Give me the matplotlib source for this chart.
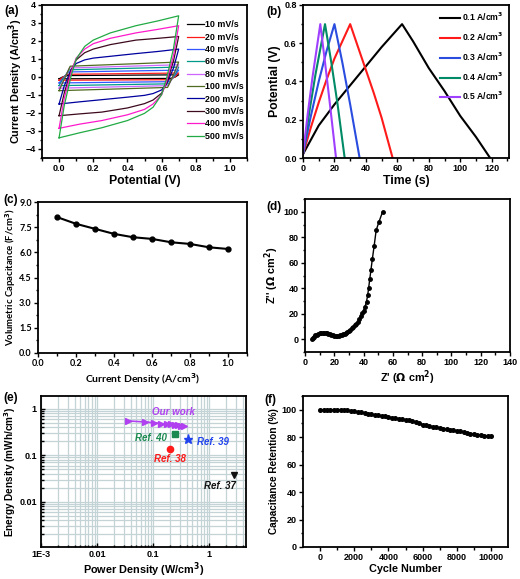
import matplotlib
matplotlib.use("Agg")
import matplotlib.pyplot as plt
import numpy as np
from matplotlib.ticker import MultipleLocator, LogLocator, NullFormatter, FixedLocator, FixedFormatter

plt.rcParams['font.family'] = ['Liberation Sans', 'DejaVu Sans']
plt.rcParams['font.weight'] = 'bold'
plt.rcParams['axes.labelweight'] = 'bold'
plt.rcParams['mathtext.default'] = 'bf'

# ---------------- (a) CV data ----------------
cv_labels = ["10 mV/s", "20 mV/s", "40 mV/s", "60 mV/s", "80 mV/s",
             "100 mV/s", "200 mV/s", "300 mV/s", "400 mV/s", "500 mV/s"]
cv_colors = ["#000000", "#ff1a1a", "#3355ff", "#00998a", "#cc66ff",
             "#4f6b1f", "#00009e", "#3d0a1e", "#ff1acc", "#22aa44"]
# forward (upper) branch potentials / currents
cv_up_E = [
    [0.0, 0.02, 0.05, 0.70],
    [0.0, 0.02, 0.05, 0.70],
    [0.0, 0.025, 0.055, 0.70],
    [0.0, 0.025, 0.06, 0.70],
    [0.0, 0.03, 0.06, 0.70],
    [0.0, 0.03, 0.065, 0.70],
    [0.0, 0.03, 0.07, 0.10, 0.15, 0.20, 0.30, 0.45, 0.58, 0.70],
    [0.0, 0.03, 0.07, 0.10, 0.15, 0.20, 0.30, 0.45, 0.58, 0.70],
    [0.0, 0.03, 0.07, 0.10, 0.15, 0.20, 0.30, 0.45, 0.58, 0.70],
    [0.0, 0.03, 0.07, 0.10, 0.15, 0.20, 0.30, 0.45, 0.58, 0.70],
]
cv_up_I = [
    [-0.10, 0.00, 0.08, 0.12],
    [-0.18, -0.02, 0.15, 0.22],
    [-0.33, -0.05, 0.28, 0.38],
    [-0.48, -0.08, 0.40, 0.55],
    [-0.62, -0.10, 0.50, 0.68],
    [-0.76, -0.12, 0.60, 0.83],
    [-1.50, -0.50, 0.40, 0.75, 0.95, 1.05, 1.15, 1.30, 1.42, 1.55],
    [-2.15, -0.90, 0.35, 0.95, 1.35, 1.55, 1.80, 2.05, 2.15, 2.25],
    [-2.85, -1.20, 0.25, 1.05, 1.55, 1.85, 2.15, 2.45, 2.65, 2.85],
    [-3.38, -1.60, 0.05, 1.00, 1.70, 2.05, 2.45, 2.85, 3.12, 3.40],
]
# reverse (lower) branch
cv_dn_E = [
    [0.70, 0.68, 0.65, 0.0],
    [0.70, 0.68, 0.65, 0.0],
    [0.70, 0.675, 0.645, 0.0],
    [0.70, 0.675, 0.64, 0.0],
    [0.70, 0.67, 0.64, 0.0],
    [0.70, 0.67, 0.635, 0.0],
    [0.70, 0.67, 0.63, 0.60, 0.55, 0.50, 0.40, 0.25, 0.12, 0.0],
    [0.70, 0.67, 0.63, 0.60, 0.55, 0.50, 0.40, 0.25, 0.12, 0.0],
    [0.70, 0.67, 0.63, 0.60, 0.55, 0.50, 0.40, 0.25, 0.12, 0.0],
    [0.70, 0.67, 0.63, 0.60, 0.55, 0.50, 0.40, 0.25, 0.12, 0.0],
]
cv_dn_I = [
    [0.12, 0.00, -0.08, -0.10],
    [0.22, 0.02, -0.15, -0.18],
    [0.38, 0.05, -0.26, -0.33],
    [0.55, 0.08, -0.38, -0.48],
    [0.68, 0.10, -0.48, -0.62],
    [0.83, 0.12, -0.58, -0.76],
    [1.55, 0.50, -0.38, -0.72, -0.92, -1.02, -1.12, -1.26, -1.38, -1.50],
    [2.25, 0.90, -0.32, -0.90, -1.28, -1.48, -1.72, -1.95, -2.05, -2.15],
    [2.85, 1.20, -0.22, -1.00, -1.50, -1.80, -2.10, -2.42, -2.62, -2.85],
    [3.40, 1.60, -0.05, -0.98, -1.68, -2.02, -2.42, -2.82, -3.10, -3.38],
]

# ---------------- (b) GCD data ----------------
gcd_labels = ["0.1 A/cm$^{3}$", "0.2 A/cm$^{3}$", "0.3 A/cm$^{3}$",
              "0.4 A/cm$^{3}$", "0.5 A/cm$^{3}$"]
gcd_colors = ["#000000", "#ff1a1a", "#2a4de0", "#008a66", "#a040ff"]
gcd_t = [
    [0, 10, 20, 30, 40, 50, 63, 70, 80, 90, 100, 110, 119],
    [0, 5, 10, 15, 20, 25, 30, 35, 40, 45, 50, 57],
    [0, 5, 10, 15, 20, 25, 30, 36],
    [0, 4, 8, 14, 18, 22, 26.5],
    [0, 3, 6, 11, 14, 17, 21],
]
gcd_V = [
    [0.02, 0.17, 0.28, 0.38, 0.48, 0.58, 0.70, 0.61, 0.47, 0.35, 0.22, 0.11, 0.0],
    [0.02, 0.16, 0.29, 0.41, 0.52, 0.61, 0.70, 0.58, 0.46, 0.34, 0.21, 0.0],
    [0.02, 0.22, 0.40, 0.56, 0.70, 0.50, 0.28, 0.0],
    [0.02, 0.24, 0.44, 0.70, 0.50, 0.28, 0.0],
    [0.02, 0.23, 0.42, 0.70, 0.50, 0.29, 0.0],
]

# ---------------- (c) rate capability ----------------
cd_current = [0.1, 0.2, 0.3, 0.4, 0.5, 0.6, 0.7, 0.8, 0.9, 1.0]
cd_capacitance = [8.1, 7.7, 7.4, 7.1, 6.9, 6.8, 6.6, 6.5, 6.3, 6.2]

# ---------------- (d) Nyquist ----------------
z_re = [5, 5.5, 6, 7, 8, 9, 10, 11, 12, 13, 14, 15, 16, 17, 18, 19, 20, 21, 22,
        23, 24, 25, 26, 27, 28, 29, 30, 31, 32, 33, 34, 35, 36, 37, 38, 39,
        40, 41, 42, 42.8, 43.5, 44.2, 45.0, 46.0, 47.2, 48.6, 50.5, 53]
z_im = [0.5, 1.3, 2.0, 3.0, 3.7, 4.2, 4.6, 4.9, 5.0, 5.0, 4.9, 4.7, 4.4, 4.0, 3.6,
        3.2, 2.9, 2.7, 2.7, 2.9, 3.2, 3.6, 4.0, 4.5, 5.1, 5.8, 6.6, 7.5, 8.5, 9.6,
        10.8, 12.2, 13.8, 15.5, 18.0, 20.5, 22.5, 25.5, 29.5, 34.5, 40.5, 47, 54,
        63, 73, 85.5, 92, 100]

# ---------------- (e) Ragone ----------------
our_power = [0.035, 0.07, 0.105, 0.14, 0.175, 0.21, 0.245, 0.28, 0.315, 0.35]
our_energy = [0.551, 0.524, 0.503, 0.483, 0.469, 0.463, 0.449, 0.442, 0.428, 0.422]
ref_names = ["Ref. 40", "Ref. 39", "Ref. 38", "Ref. 37"]
ref_power = [0.24, 0.42, 0.20, 2.7]
ref_energy = [0.29, 0.22, 0.14, 0.038]

# ---------------- (f) cycling ----------------
cycles = [0, 200, 400, 600, 800, 1000, 1200, 1400, 1600, 1800, 2000, 2200, 2400,
          2600, 2800, 3000, 3200, 3400, 3600, 3800, 4000, 4200, 4400, 4600, 4800,
          5000, 5200, 5400, 5600, 5800, 6000, 6200, 6400, 6600, 6800, 7000, 7200,
          7400, 7600, 7800, 8000, 8200, 8400, 8600, 8800, 9000, 9200, 9400, 9600,
          9800, 10000]
retention = [100, 100, 100, 100, 100, 100, 100, 99.8, 99.5, 99.2, 98.9, 98.5,
             98.1, 97.7, 97.2, 96.7, 96.3, 95.9, 95.5, 95.1, 94.7, 94.3, 93.9,
             93.5, 93.1, 92.7, 92.2, 91.7, 91.1, 90.3, 89.2, 88.6, 88.1, 87.6,
             87.1, 86.7, 86.2, 85.7, 85.3, 84.9, 84.6, 84.2, 83.7, 83.2, 82.6,
             82.1, 81.7, 81.4, 81.2, 81.0, 80.9]

W, H = 520, 579
fig = plt.figure(figsize=(W / 100, H / 100), dpi=100)


def box(l, r, t, b):
    return [l / W, 1 - b / H, (r - l) / W, (b - t) / H]


TICK = 6.5
LAB = 7.8


def style(ax, direction='out'):
    for s in ax.spines.values():
        s.set_linewidth(1.3)
    ax.tick_params(which='both', direction=direction, labelsize=TICK, width=1.0,
                   top=False, right=False, pad=1.5)
    ax.tick_params(which='major', length=3)
    ax.tick_params(which='minor', length=1.8)
    for lab in ax.get_xticklabels() + ax.get_yticklabels():
        lab.set_fontweight('bold')


# (a)
axa = fig.add_axes(box(42, 247, 5, 158))
for i in range(len(cv_labels)):
    E = cv_up_E[i] + cv_dn_E[i]
    I = cv_up_I[i] + cv_dn_I[i]
    axa.plot(E, I, color=cv_colors[i], lw=0.9, label=cv_labels[i])
axa.set_xlim(-0.1, 1.1)
axa.set_ylim(-4.5, 4)
axa.xaxis.set_major_locator(MultipleLocator(0.2))
axa.xaxis.set_minor_locator(MultipleLocator(0.1))
axa.yaxis.set_major_locator(MultipleLocator(1))
axa.yaxis.set_minor_locator(MultipleLocator(0.5))
axa.set_xlabel("Potential (V)", fontsize=LAB + 1, labelpad=1)
axa.set_ylabel("Current Density (A/cm$^{3}$)", fontsize=LAB, labelpad=0)
style(axa)
axa.legend(loc='upper right', bbox_to_anchor=(0.985, 0.9), frameon=False,
           fontsize=6.4, handlelength=2.0, handletextpad=0.1, labelspacing=0.38,
           borderaxespad=0.0, borderpad=0.0)
fig.text(4 / W, 1 - 11 / H, "(a)", fontsize=8.5, fontweight='bold', va='center')

# (b)
axb = fig.add_axes(box(303, 509, 5, 158))
for i in range(len(gcd_labels)):
    axb.plot(gcd_t[i], gcd_V[i], color=gcd_colors[i], lw=1.5, label=gcd_labels[i])
axb.set_xlim(0, 131)
axb.set_ylim(0, 0.8)
axb.xaxis.set_major_locator(MultipleLocator(20))
axb.xaxis.set_minor_locator(MultipleLocator(10))
axb.yaxis.set_major_locator(MultipleLocator(0.2))
axb.yaxis.set_minor_locator(MultipleLocator(0.1))
axb.set_xlabel("Time (s)", fontsize=LAB + 1, labelpad=1)
axb.set_ylabel("Potential (V)", fontsize=LAB + 1, labelpad=2)
style(axb)
axb.legend(loc='upper right', frameon=False, fontsize=6.2, handlelength=2.3,
           handletextpad=0.2, labelspacing=0.85, borderaxespad=0.3)
fig.text(266 / W, 1 - 12 / H, "(b)", fontsize=8.5, fontweight='bold', va='center')

# (c)
axc = fig.add_axes(box(38, 247, 202, 353))
axc.plot(cd_current, cd_capacitance, color='black', lw=1.5, marker='o', ms=3.5)
axc.set_xlim(0, 1.1)
axc.set_ylim(0, 9)
axc.xaxis.set_major_locator(MultipleLocator(0.2))
axc.xaxis.set_minor_locator(MultipleLocator(0.1))
axc.yaxis.set_major_locator(MultipleLocator(1.5))
axc.yaxis.set_minor_locator(MultipleLocator(0.75))
axc.yaxis.set_major_formatter(matplotlib.ticker.FormatStrFormatter('%.1f'))
axc.xaxis.set_major_formatter(matplotlib.ticker.FormatStrFormatter('%.1f'))
axc.set_xlabel("Current Density (A/cm$^{3}$)", fontsize=7.5, labelpad=2,
               family=['Lato', 'DejaVu Sans'])
axc.set_ylabel("Volumetric Capacitance (F/cm$^{3}$)", fontsize=6.8, labelpad=1,
               family=['Lato', 'DejaVu Sans'])
style(axc)
for lab in axc.get_xticklabels() + axc.get_yticklabels():
    lab.set_family(['Lato', 'DejaVu Sans'])
fig.text(3 / W, 1 - 200 / H, "(c)", fontsize=8.5, fontweight='bold', va='center')

# (d)
axd = fig.add_axes(box(305, 510, 199, 352))
axd.plot(z_re, z_im, color='black', lw=1.0, marker='o', ms=2.5)
axd.set_xlim(0, 140)
axd.set_ylim(-10, 110)
axd.xaxis.set_major_locator(MultipleLocator(20))
axd.xaxis.set_minor_locator(MultipleLocator(10))
axd.yaxis.set_major_locator(FixedLocator([0, 20, 40, 60, 80, 100]))
axd.yaxis.set_minor_locator(FixedLocator([-10, 10, 30, 50, 70, 90, 110]))
axd.set_xlabel("Z' ($\\Omega$ cm$^{2}$)", fontsize=LAB, labelpad=1)
axd.set_ylabel("Z'' ($\\Omega$ cm$^{2}$)", fontsize=LAB, labelpad=2)
style(axd)
fig.text(266 / W, 1 - 207 / H, "(d)", fontsize=8.5, fontweight='bold', va='center')

# (e)
axe = fig.add_axes(box(41, 246, 396, 547))
axe.set_xscale('log')
axe.set_yscale('log')
axe.set_xlim(1e-3, 4.5)
axe.set_ylim(1.05e-3, 1.9)
axe.grid(True, which='both', color='#c3d3d6', lw=0.9)
axe.set_axisbelow(True)
axe.plot(our_power, our_energy, color='#b040f0', lw=1.2, marker='>', ms=4.5,
         zorder=3)
ref_markers = ['s', '*', 'o', 'v']
ref_colors = ['#1a8a50', '#2244ee', '#ff1a1a', '#111111']
ref_ms = [4.5, 6.5, 4.5, 4.5]
for k in range(len(ref_names)):
    axe.plot(ref_power[k], ref_energy[k], ls='none', marker=ref_markers[k],
             color=ref_colors[k], ms=ref_ms[k], zorder=3)
txt_kw = dict(fontsize=7, fontweight='bold', style='italic', ha='center', va='center')
axe.text(0.23, 0.84, "Our work", color='#b040f0', **txt_kw)
axe.text(0.092, 0.24, "Ref. 40", color='#1a8a50', **txt_kw)
axe.text(1.15, 0.19, "Ref. 39", color='#2244ee', **txt_kw)
axe.text(0.2, 0.082, "Ref. 38", color='#ff1a1a', **txt_kw)
axe.text(1.55, 0.022, "Ref. 37", color='#111111', **txt_kw)
axe.xaxis.set_major_locator(FixedLocator([1e-3, 1e-2, 1e-1, 1]))
axe.xaxis.set_major_formatter(FixedFormatter(["1E-3", "0.01", "0.1", "1"]))
axe.xaxis.set_minor_locator(LogLocator(base=10, subs=np.arange(2, 10)))
axe.xaxis.set_minor_formatter(NullFormatter())
axe.yaxis.set_major_locator(FixedLocator([1e-2, 1e-1, 1]))
axe.yaxis.set_major_formatter(FixedFormatter(["0.01", "0.1", "1"]))
axe.yaxis.set_minor_locator(LogLocator(base=10, subs=np.arange(2, 10)))
axe.yaxis.set_minor_formatter(NullFormatter())
axe.set_xlabel("Power Density (W/cm$^{3}$)", fontsize=LAB, labelpad=0.5)
axe.set_ylabel("Energy Density (mWh/cm$^{3}$)", fontsize=7.2, labelpad=1)
style(axe, direction='in')
axe.tick_params(axis='x', pad=2.5)
axe.tick_params(axis='y', pad=3)
fig.text(3 / W, 1 - 398 / H, "(e)", fontsize=8.5, fontweight='bold', va='center')

# (f)
axf = fig.add_axes(box(303, 508, 396, 547))
axf.plot(cycles, retention, color='black', lw=1.0, marker='o', ms=2.6)
axf.set_xlim(-1000, 11000)
axf.set_ylim(0, 110)
axf.xaxis.set_major_locator(FixedLocator([0, 2000, 4000, 6000, 8000, 10000]))
axf.xaxis.set_minor_locator(FixedLocator([1000, 3000, 5000, 7000, 9000]))
axf.yaxis.set_major_locator(MultipleLocator(20))
axf.yaxis.set_minor_locator(MultipleLocator(10))
axf.set_xlabel("Cycle Number", fontsize=LAB, labelpad=1)
axf.set_ylabel("Capacitance Retention (%)", fontsize=7.2, labelpad=2)
style(axf)
fig.text(264 / W, 1 - 400 / H, "(f)", fontsize=8.5, fontweight='bold', va='center')

fig.savefig("out.png", dpi=100)
